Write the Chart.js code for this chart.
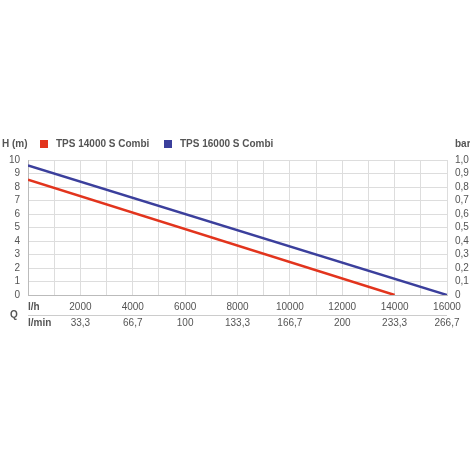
<!DOCTYPE html>
<html><head><meta charset="utf-8">
<script src="https://cdn.jsdelivr.net/npm/chart.js@4"></script>
<style>html,body{margin:0;background:#fff}#c{display:block}</style>
</head><body>
<div style="width:470px;height:470px"><canvas id="c" width="470" height="470"></canvas></div>
<script>
const seriesNames = ["TPS 14000 S Combi", "TPS 16000 S Combi"];
const redFlow = [0, 14000];
const redHead = [8.55, 0];
const blueFlow = [0, 16000];
const blueHead = [9.6, 0];
const lhTicks = [2000, 4000, 6000, 8000, 10000, 12000, 14000, 16000];
const lminTicks = ["33,3", "66,7", "100", "133,3", "166,7", "200", "233,3", "266,7"];
const barTicks = ["0", "0,1", "0,2", "0,3", "0,4", "0,5", "0,6", "0,7", "0,8", "0,9", "1,0"];
const colors = ["#e2341d", "#3b3f9c"];

const txt = "#555";
const labels = {
  id: "labels",
  afterDraw(chart) {
    const ctx = chart.ctx, x = chart.scales.x, y = chart.scales.y, a = chart.chartArea;
    ctx.save();
    ctx.font = "10px 'Liberation Sans', Arial, sans-serif";
    ctx.fillStyle = txt;
    ctx.textBaseline = "middle";
    for (let v = 0; v <= 10; v++) {
      ctx.textAlign = "right";
      ctx.fillText(String(v), a.left - 8, y.getPixelForValue(v));
      ctx.textAlign = "left";
      ctx.fillText(barTicks[v], a.right + 8, y.getPixelForValue(v));
    }
    ctx.textAlign = "center";
    lhTicks.forEach((v, i) => {
      ctx.fillText(String(v), x.getPixelForValue(v), a.bottom + 12);
      ctx.fillText(lminTicks[i], x.getPixelForValue(v), a.bottom + 28);
    });
    ctx.font = "bold 10px 'Liberation Sans', Arial, sans-serif";
    ctx.textAlign = "left";
    ctx.fillText("l/h", a.left, a.bottom + 12);
    ctx.fillText("l/min", a.left, a.bottom + 28);
    ctx.fillText("Q", 10, a.bottom + 20);
    ctx.fillText("H (m)", 2, 144);
    ctx.fillText("bar", a.right + 8, 144);
    ctx.fillStyle = colors[0]; ctx.fillRect(40, 140, 8, 8);
    ctx.fillStyle = colors[1]; ctx.fillRect(164, 140, 8, 8);
    ctx.fillStyle = txt;
    ctx.fillText(seriesNames[0], 56, 144);
    ctx.fillText(seriesNames[1], 180, 144);
    ctx.strokeStyle = "#ccc"; ctx.lineWidth = 1;
    ctx.beginPath();
    ctx.moveTo(a.left, a.bottom + 20.5); ctx.lineTo(a.right, a.bottom + 20.5);
    ctx.stroke();
    ctx.restore();
  }
};

new Chart(document.getElementById("c"), {
  type: "scatter",
  data: {
    datasets: [
      { label: seriesNames[0], data: redFlow.map((f, i) => ({ x: f, y: redHead[i] })), borderColor: colors[0] },
      { label: seriesNames[1], data: blueFlow.map((f, i) => ({ x: f, y: blueHead[i] })), borderColor: colors[1] }
    ].map(d => Object.assign(d, { showLine: true, pointRadius: 0, borderWidth: 2.5, fill: false }))
  },
  options: {
    responsive: false,
    animation: false,
    layout: { padding: { left: 28, right: 23, top: 160, bottom: 175 } },
    plugins: { legend: { display: false }, tooltip: { enabled: false } },
    scales: {
      x: { type: "linear", min: 0, max: 16000,
        ticks: { stepSize: 1000, display: false },
        grid: { color: "#ddd", drawTicks: false },
        border: { color: "#bbb" } },
      y: { min: 0, max: 10,
        ticks: { stepSize: 1, display: false },
        grid: { color: "#ddd", drawTicks: false },
        border: { color: "#bbb" } }
    }
  },
  plugins: [labels]
});
</script>
</body></html>
